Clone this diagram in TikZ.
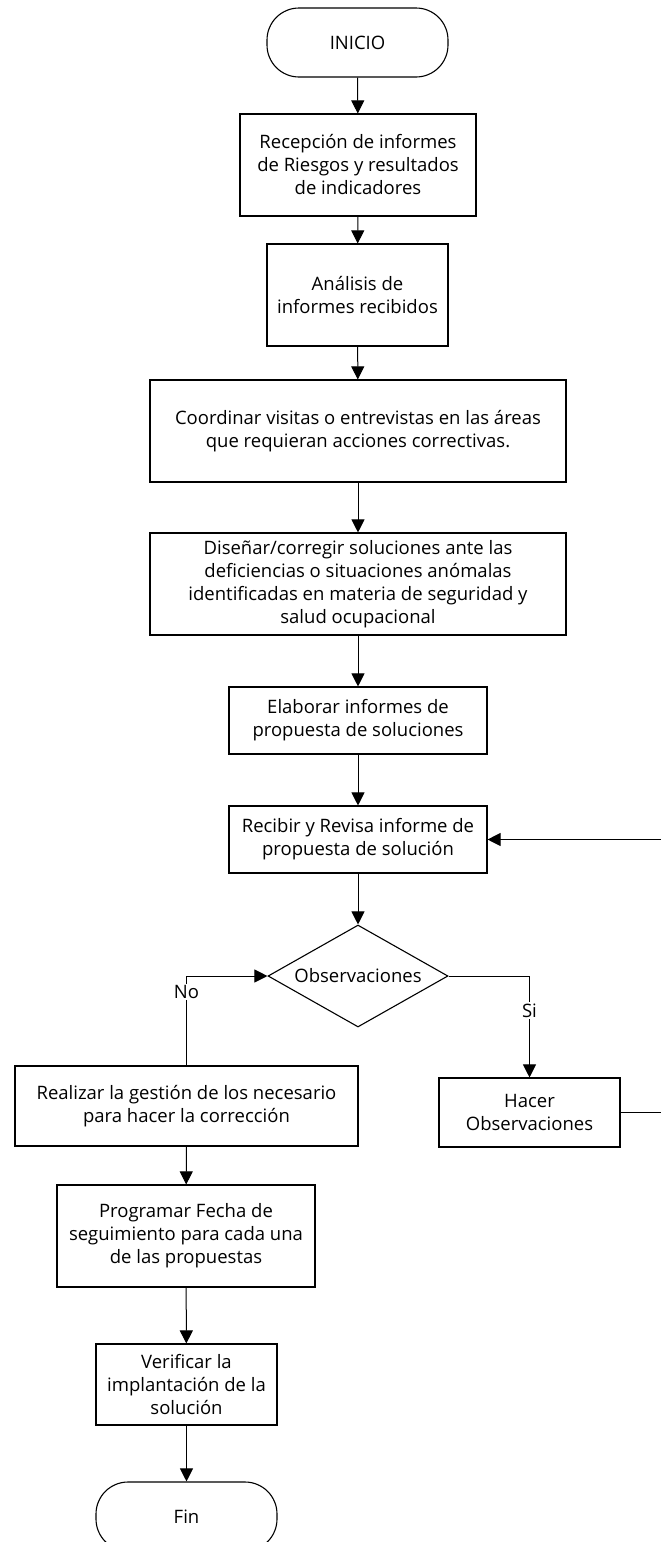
\documentclass[tikz,border=0pt]{standalone}
\usepackage{fontspec}
\setmainfont{Open Sans}
\usetikzlibrary{arrows.meta,shapes.geometric}
\begin{document}
\begin{tikzpicture}[x=1pt,y=-1pt,
  every node/.style={font=\fontsize{18.5}{23}\selectfont, align=center},
  box/.style={draw, line width=1.1pt, rectangle, inner sep=0pt},
  term/.style={draw, line width=1.1pt, rectangle, rounded corners=32pt, inner sep=0pt, minimum width=181pt, minimum height=69pt},
  decision/.style={draw, line width=1.1pt, diamond, aspect=1.76, inner sep=0pt, minimum width=180pt, minimum height=102pt},
  arr/.style={draw, line width=1pt, -{Triangle[length=13pt,width=13pt]}},
  lbl/.style={fill=white, inner sep=1.5pt}
]
\useasboundingbox (0,0) rectangle (661,1542);
\fill[white] (0,0) rectangle (661,1542);
\clip (0,0) rectangle (661,1542);

\node[term] (inicio) at (357.5,42.5) {INICIO};
\node[box, minimum width=236pt, minimum height=102pt] (recep) at (358,165) {Recepción de informes\\de Riesgos y resultados\\de indicadores};
\node[box, minimum width=181pt, minimum height=102pt] (anal) at (357.5,295) {Análisis de\\informes recibidos};
\node[box, minimum width=416pt, minimum height=102pt] (coord) at (358,431) {Coordinar visitas o entrevistas en las áreas\\que requieran acciones correctivas.};
\node[box, minimum width=416pt, minimum height=102pt] (disen) at (358,584) {Diseñar/corregir soluciones ante las\\deficiencias o situaciones anómalas\\identificadas en materia de seguridad y\\salud ocupacional};
\node[box, minimum width=258pt, minimum height=67pt] (elab) at (358,720.5) {Elaborar informes de\\propuesta de soluciones};
\node[box, minimum width=258pt, minimum height=67pt] (recib) at (358,839.5) {Recibir y Revisa informe de\\propuesta de solución};
\node[decision] (dia) at (358,976) {Observaciones};
\node[box, minimum width=343pt, minimum height=80pt] (real) at (186.5,1106) {Realizar la gestión de los necesario\\para hacer la corrección};
\node[box, minimum width=181pt, minimum height=69pt] (hacer) at (529.5,1112.5) {Hacer\\Observaciones};
\node[box, minimum width=258pt, minimum height=102pt] (prog) at (186,1236) {Programar Fecha de\\seguimiento para cada una\\de las propuestas};
\node[box, minimum width=181pt, minimum height=81pt] (verif) at (186.5,1384.5) {Verificar la\\implantación de la\\solución};
\node[term] (fin) at (186.5,1516.5) {Fin};

\draw[arr] (inicio) -- (recep);
\draw[arr] (recep) -- (anal);
\draw[arr] (anal) -- (coord);
\draw[arr] (coord) -- (disen);
\draw[arr] (disen) -- (elab);
\draw[arr] (elab) -- (recib);
\draw[arr] (recib) -- (dia);
\draw[arr] (real.north) |- node[lbl, pos=0.41] {No} (dia.west);
\draw[arr] (dia.east) -| node[lbl, pos=0.67] {Si} (hacer.north);
\draw[arr] (hacer.east) -- ++(60,0) |- (recib.east);
\draw[arr] (real) -- (prog);
\draw[arr] (prog) -- (verif);
\draw[arr] (verif) -- (fin);
\end{tikzpicture}
\end{document}
